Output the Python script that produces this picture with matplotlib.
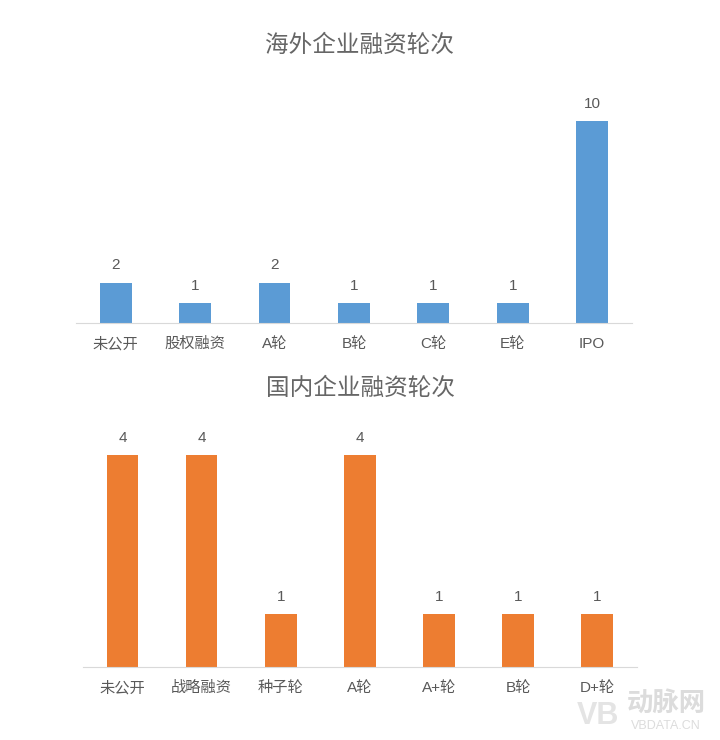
import matplotlib
matplotlib.use("Agg")
import matplotlib.pyplot as plt

plt.rcParams['font.family'] = ['Liberation Sans', 'Noto Sans CJK SC', 'DejaVu Sans']

# overseas companies
overseas_rounds = ['未公开', '股权融资', 'A轮', 'B轮', 'C轮', 'E轮', 'IPO']
overseas_counts = [2, 1, 2, 1, 1, 1, 10]

# domestic companies
domestic_rounds = ['未公开', '战略融资', '种子轮', 'A轮', 'A+轮', 'B轮', 'D+轮']
domestic_counts = [4, 4, 1, 4, 1, 1, 1]

BLUE = '#5B9BD5'
ORANGE = '#ED7D31'
TEXT = '#595959'


def bar_panel(ax, cats, vals, color, ymax, offset):
    x = range(len(cats))
    ax.bar(x, vals, width=0.4, color=color)
    for i, v in zip(x, vals):
        ax.text(i, v + offset, str(v), ha='center', va='center', fontsize=11, color=TEXT)
    ax.set_xlim(-0.5, len(cats) - 0.5)
    ax.set_ylim(0, ymax)
    ax.set_xticks(list(x))
    ax.set_xticklabels(cats, fontsize=11, color=TEXT)
    ax.tick_params(axis='x', length=0, pad=10)
    ax.set_yticks([])
    for s in ['top', 'left', 'right']:
        ax.spines[s].set_visible(False)
    ax.spines['bottom'].set_color('#D9D9D9')


fig = plt.figure(figsize=(7.2, 7.4), dpi=100)

ax1 = fig.add_axes([0.1056, 0.5635, 0.772, 0.3284])
bar_panel(ax1, overseas_rounds, overseas_counts, BLUE, 12.03, 0.85)

ax2 = fig.add_axes([0.1153, 0.0986, 0.769, 0.334])
bar_panel(ax2, domestic_rounds, domestic_counts, ORANGE, 4.66, 0.32)

fig.text(0.5, 1 - 45 / 740, '海外企业融资轮次', ha='center', va='center', fontsize=17,
         color='#666666', family=['Noto Sans CJK SC'])
fig.text(0.5, 1 - 388 / 740, '国内企业融资轮次', ha='center', va='center', fontsize=17,
         color='#666666', family=['Noto Sans CJK SC'])

# watermark
fig.text(0.925, 1 - 703 / 740, '动脉网', ha='center', va='center', fontsize=19, color='#DCDCDC',
         fontweight='bold', family=['Noto Sans CJK SC'])
fig.text(0.925, 1 - 726 / 740, 'VBDATA.CN', ha='center', va='center', fontsize=9, color='#DCDCDC')
fig.text(0.83, 1 - 716 / 740, 'VB', ha='center', va='center', fontsize=22, color='#E4E4E4',
         fontweight='bold')

fig.savefig('out.png', dpi=100)
